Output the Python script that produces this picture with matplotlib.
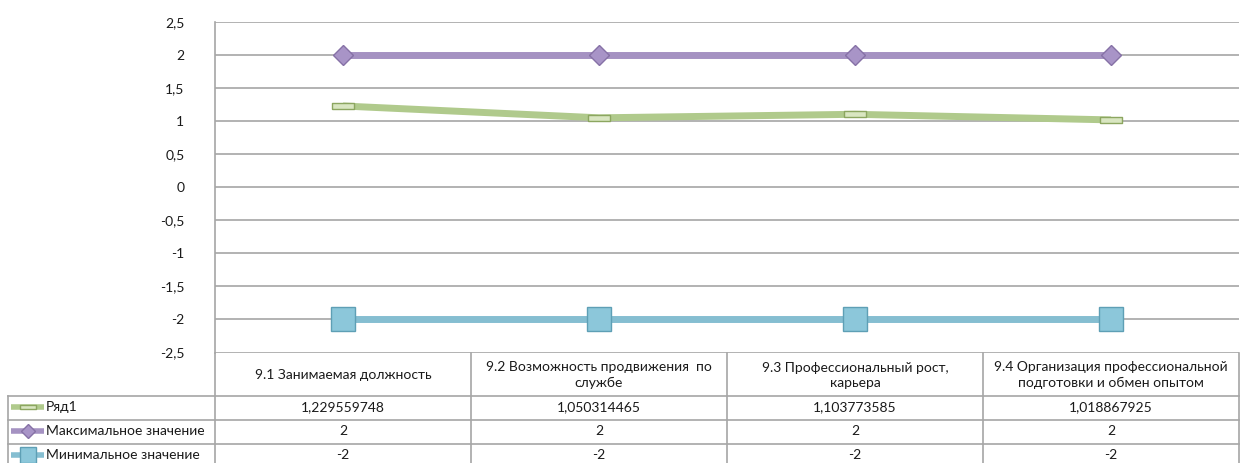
import matplotlib.pyplot as plt
from matplotlib.path import Path

plt.rcParams['font.family'] = ['Lato', 'DejaVu Sans']

# data
categories = ['9.1 Занимаемая должность',
              '9.2 Возможность продвижения  по\nслужбе',
              '9.3 Профессиональный рост,\nкарьера',
              '9.4 Организация профессиональной\nподготовки и обмен опытом']
series_names = ['Ряд1', 'Максимальное значение', 'Минимальное значение']
row1 = [1.229559748, 1.050314465, 1.103773585, 1.018867925]
max_vals = [2, 2, 2, 2]
min_vals = [-2, -2, -2, -2]
yticks = [-2.5, -2, -1.5, -1, -0.5, 0, 0.5, 1, 1.5, 2, 2.5]

W, H = 1241, 463
fig = plt.figure(figsize=(W / 100, H / 100), dpi=100)

# pixel layout
left, right, top, bottom = 215, 1239, 22, 352.5
col_w = (right - left) / len(categories)
fs = 10

ax = fig.add_axes([left / W, 1 - bottom / H, (right - left) / W, (bottom - top) / H])
ax.set_facecolor('none')

bar_marker = Path([(-1, -0.25), (1, -0.25), (1, 0.25), (-1, 0.25), (-1, -0.25)])

styles = [
    dict(color='#B0CA8C', lw=5, marker=bar_marker, ms=16, mfc='#D9E6C1', mec='#8CA660', mew=1),
    dict(color='#A592C2', lw=5, marker='D', ms=10, mfc='#A894C7', mec='#8671A6', mew=1),
    dict(color='#85BED1', lw=5, marker='s', ms=17, mfc='#8CC7DA', mec='#5E9FB5', mew=1),
]
series = [row1, max_vals, min_vals]
x = list(range(len(categories)))
for vals, st in zip(series, styles):
    ax.plot(x, vals, solid_capstyle='butt', zorder=3, **st)

ax.set_xlim(-0.5, len(categories) - 0.5)
ax.set_ylim(-2.5, 2.5)
ax.set_yticks(yticks)
ax.set_yticklabels([('%g' % v).replace('.', ',') for v in yticks])
ax.set_xticks([])
ax.tick_params(axis='y', length=0, pad=22, labelsize=fs, labelcolor='#1a1a1a')
ax.grid(axis='y', color='#A6A6A6', lw=1.2)
for s in ['top', 'right', 'bottom']:
    ax.spines[s].set_visible(False)
ax.spines['left'].set_color('#A6A6A6')
ax.spines['left'].set_linewidth(1.2)

# data table below the plot
tb = fig.add_axes([0, 0, 1, 1], zorder=-1)
tb.set_xlim(0, W)
tb.set_ylim(H, 0)
tb.axis('off')
lc = '#A6A6A6'
row_y = [bottom, 396, 420, 444, 468]
tab_left = 8
for i in range(len(categories) + 1):
    xx = left + i * col_w
    tb.plot([xx, xx], [bottom, H + 5], color=lc, lw=1.2)
for yy in row_y[1:]:
    tb.plot([tab_left, right], [yy, yy], color=lc, lw=1.2)
tb.plot([tab_left, tab_left], [row_y[1], H + 5], color=lc, lw=1.2)

for i, cat in enumerate(categories):
    tb.text(left + (i + 0.5) * col_w, (row_y[0] + row_y[1]) / 2 + 1, cat,
            ha='center', va='center', fontsize=fs, color='#1a1a1a', linespacing=1.35)

for r, (name, vals, st) in enumerate(zip(series_names, series, styles)):
    yc = (row_y[r + 1] + row_y[r + 2]) / 2 - 1
    tb.plot([11, 44], [yc, yc], color=st['color'], lw=4, solid_capstyle='butt')
    ms = st['ms'] * 0.7
    tb.plot([27.5], [yc], marker=st['marker'], ms=ms, mfc=st['mfc'], mec=st['mec'], mew=1)
    tb.text(46, yc, name, ha='left', va='center', fontsize=fs, color='#1a1a1a')
    for i, v in enumerate(vals):
        tb.text(left + (i + 0.5) * col_w, yc, ('%.10g' % v).replace('.', ','),
                ha='center', va='center', fontsize=fs, color='#1a1a1a')

fig.savefig('out.png', dpi=100)
